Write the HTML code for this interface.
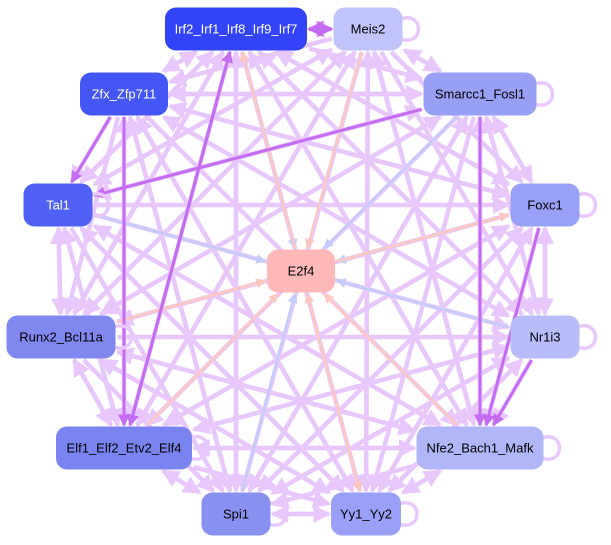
<!DOCTYPE html>
<html><head><meta charset="utf-8"><style>
html,body{margin:0;padding:0;background:#fff;width:611px;height:545px;overflow:hidden}
svg{display:block}
text{font-family:"Liberation Sans",sans-serif;font-size:13px;text-anchor:middle;dominant-baseline:central}
</style></head><body>
<svg id="s" width="611" height="545" viewBox="0 0 611 545">
<defs>
<marker id="a1" markerWidth="4" markerHeight="4" refX="3.5" refY="2" orient="auto" markerUnits="strokeWidth"><path d="M0,0L4,2L0,4z" fill="#e8c8fc"/></marker>
<marker id="a2" markerWidth="4" markerHeight="4" refX="3.5" refY="2" orient="auto" markerUnits="strokeWidth"><path d="M0,0L4,2L0,4z" fill="#c46cf2"/></marker>
<marker id="a3" markerWidth="4" markerHeight="4" refX="3.5" refY="2" orient="auto" markerUnits="strokeWidth"><path d="M0,0L4,2L0,4z" fill="#c4ccfa"/></marker>
<marker id="a4" markerWidth="4" markerHeight="4" refX="3.5" refY="2" orient="auto" markerUnits="strokeWidth"><path d="M0,0L4,2L0,4z" fill="#fcc8c0"/></marker>
</defs>
<g id="e"></g>
<g id="n"></g>
</svg>
<script>
var N={
irf:[236,29,142,"#3344f8","#fff","Irf2_Irf1_Irf8_Irf9_Irf7"],
meis:[368,29,69,"#c0c4fa","#000","Meis2"],
zfx:[124,94,88,"#4456f6","#fff","Zfx_Zfp711"],
sma:[480,94,113,"#98a0f6","#000","Smarcc1_Fosl1"],
tal:[58,205,69,"#5060f4","#fff","Tal1"],
fox:[545,205,69,"#98a0f8","#000","Foxc1"],
e2f:[301,271,68,"#ffb8b8","#000","E2f4"],
run:[61,337,109,"#8088f0","#000","Runx2_Bcl11a"],
nr:[545,337,69,"#b8bcf8","#000","Nr1i3"],
elf:[124,448,136,"#7a84f0","#000","Elf1_Elf2_Etv2_Elf4"],
nfe:[480,448,127,"#b0b6f8","#000","Nfe2_Bach1_Mafk"],
spi:[236,514,69,"#8890f0","#000","Spi1"],
yy:[366,514,70,"#9aa0f8","#000","Yy1_Yy2"]};
var ns="http://www.w3.org/2000/svg";
var E=document.getElementById("e"),G=document.getElementById("n");
function clip(a,b){var dx=b[0]-a[0],dy=b[1]-a[1];var hw=b[2]/2+2,hh=23;var t=Math.min(dx?hw/Math.abs(dx):1e9,dy?hh/Math.abs(dy):1e9);return [b[0]-dx*t,b[1]-dy*t];}
function line(p,q,c,m,w){var a=N[p],b=N[q];var s=clip(b,a),t=clip(a,b);var l=document.createElementNS(ns,"line");l.setAttribute("x1",s[0]);l.setAttribute("y1",s[1]);l.setAttribute("x2",t[0]);l.setAttribute("y2",t[1]);l.setAttribute("stroke",c);l.setAttribute("stroke-width",w||4);l.setAttribute("marker-end","url(#"+m+")");E.appendChild(l);}
var k=Object.keys(N);
for(var i=0;i<k.length;i++)for(var j=0;j<k.length;j++){if(i==j)continue;if(k[j]=="e2f")continue;if(k[i]=="e2f")continue;if((i+j)%3==0&&i>j)continue;line(k[i],k[j],"#e8c8fc","a1",4.5);}
[["tal","e2f"],["nr","e2f"],["spi","e2f"],["irf","e2f"],["fox","e2f"],["sma","e2f"]].forEach(function(x){line(x[0],x[1],"#c4ccfa","a3",2.5)});
[["meis","e2f"],["run","e2f"],["elf","e2f"],["nfe","e2f"],["yy","e2f"],["e2f","irf"],["e2f","fox"],["e2f","yy"]].forEach(function(x){line(x[0],x[1],"#fcc8c0","a4",2.5)});
[["meis","irf"],["irf","meis"],["elf","irf"],["zfx","elf"],["sma","nfe"],["fox","nfe"],["nr","nfe"],["sma","tal"],["zfx","tal"],["irf","elf"]].forEach(function(x){line(x[0],x[1],"#c46cf2","a2",x[0]=="meis"||x[1]=="meis"?4:3)});
for(var q in N){var d=N[q];
var lp=document.createElementNS(ns,"path");var x=d[0]+d[2]/2,y=d[1];lp.setAttribute("d","M"+(x-2)+","+(y-10)+" C"+(x+22)+","+(y-18)+" "+(x+22)+","+(y+18)+" "+(x-2)+","+(y+10));lp.setAttribute("fill","none");lp.setAttribute("stroke","#e8c8fc");lp.setAttribute("stroke-width","3.5");if(q!="e2f"&&q!="irf"&&q!="zfx")E.appendChild(lp);
var r=document.createElementNS(ns,"rect");r.setAttribute("x",d[0]-d[2]/2);r.setAttribute("y",d[1]-21.5);r.setAttribute("width",d[2]);r.setAttribute("height",43);r.setAttribute("rx",11);r.setAttribute("fill",d[3]);G.appendChild(r);
var t=document.createElementNS(ns,"text");t.setAttribute("x",d[0]);t.setAttribute("y",d[1]);t.setAttribute("fill",d[4]);t.textContent=d[5];G.appendChild(t);}
</script>
</body></html>
